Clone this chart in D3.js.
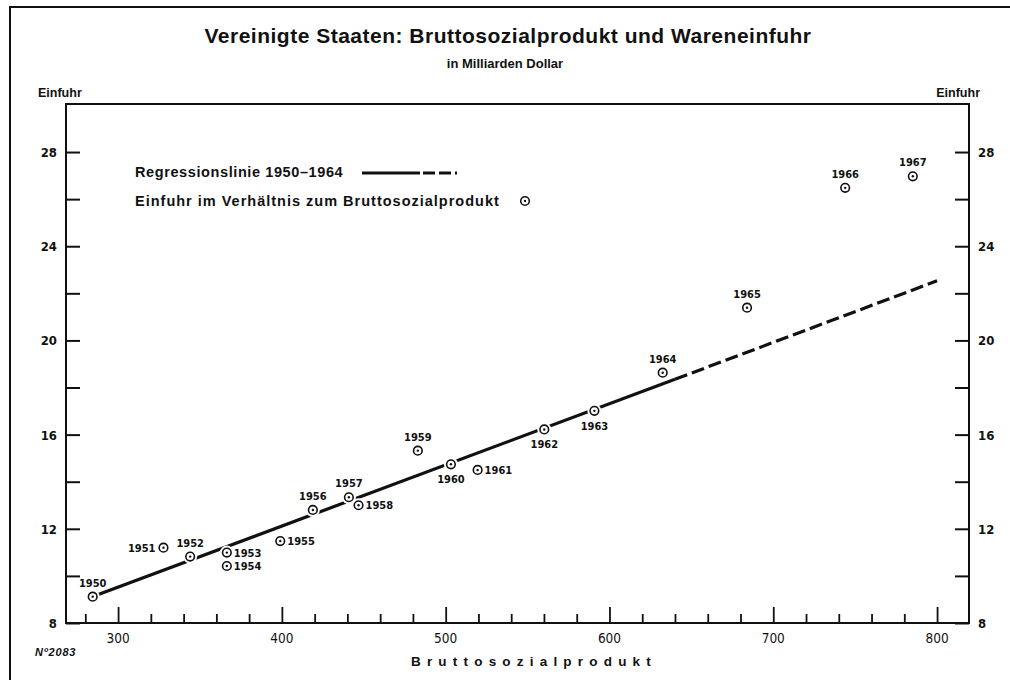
<!DOCTYPE html>
<meta charset="utf-8">
<script src="https://d3js.org/d3.v7.min.js"></script>
<style>
  body { margin: 0; background: #fff; }
  text { font-family: "Liberation Sans", Arial, sans-serif; fill: #111; }
  .narrow { font-family: "Liberation Sans Narrow", "DejaVu Sans Condensed", "Liberation Sans", sans-serif; }
</style>
<body>
<div id="chart"></div>
<script>

// data (GNP, imports, both in bn dollar)
var years   = [1950, 1951, 1952, 1953, 1954, 1955, 1956, 1957, 1958, 1959, 1960, 1961, 1962, 1963, 1964, 1965, 1966, 1967]
var gnp     = [284.5, 327.7, 344.0, 366.4, 366.4, 399.0, 418.9, 440.9, 446.8, 483.0, 503.2, 519.5, 560.2, 590.8, 632.5, 684.0, 743.9, 785.2]
var imports = [9.12, 11.2, 10.82, 10.99, 10.42, 11.48, 12.8, 13.34, 13.0, 15.32, 14.74, 14.5, 16.22, 17.01, 18.63, 21.39, 26.48, 26.97]
// where each year label sits next to its point
var labelPos = ["top", "left", "top", "right", "right", "right", "top", "top", "right", "top", "bottom", "right", "bottom", "bottom", "top", "top", "top", "top"]

// regression line 1950-1964, solid part then extrapolated (dashed)
var regSolid  = [[283, 9.08], [640, 18.35]]
var regDashed = [[640, 18.35], [800, 22.53]]

var xTicks = [300, 400, 500, 600, 700, 800]
var yTicks = [8, 12, 16, 20, 24, 28]

var width = 1010, height = 680
var pLeft = 66, pRight = 969, pTop = 104, pBottom = 623

var svg = d3.select("#chart").append("svg")
  .attr("width", width)
  .attr("height", height)

var x = d3.scaleLinear().domain([268.2, 819.5]).range([pLeft, pRight])
var y = d3.scaleLinear().domain([8, 30.04]).range([pBottom, pTop])

// outer frame (left + top only, like the scan)
svg.append("path")
  .attr("d", "M10,680 L10,7 L1010,7")
  .attr("fill", "none").attr("stroke", "#111").attr("stroke-width", 2)

// titles
svg.append("text").attr("x", 508).attr("y", 43)
  .attr("text-anchor", "middle").style("font-size", "21px").style("font-weight", "bold")
  .style("letter-spacing", "0.5px")
  .text("Vereinigte Staaten: Bruttosozialprodukt und Wareneinfuhr")
svg.append("text").attr("x", 505).attr("y", 68)
  .attr("text-anchor", "middle").style("font-size", "13px").style("font-weight", "bold")
  .text("in Milliarden Dollar")
svg.append("text").attr("x", 38).attr("y", 97)
  .style("font-size", "12.5px").style("font-weight", "bold").text("Einfuhr")
svg.append("text").attr("x", 980).attr("y", 97)
  .attr("text-anchor", "end").style("font-size", "12.5px").style("font-weight", "bold").text("Einfuhr")

// plot frame: left, right, bottom, top
svg.append("rect")
  .attr("x", pLeft).attr("y", pTop)
  .attr("width", pRight - pLeft).attr("height", pBottom - pTop)
  .attr("fill", "none").attr("stroke", "#111").attr("stroke-width", 2)

// y axes (ticks inward)
var yAll = d3.range(8, 30, 2)
var ga = svg.append("g").attr("transform", "translate(" + pLeft + ",0)")
  .call(d3.axisRight(y).tickValues(yAll).tickSize(14).tickFormat(""))
var gb = svg.append("g").attr("transform", "translate(" + pRight + ",0)")
  .call(d3.axisLeft(y).tickValues(yAll).tickSize(14).tickFormat(""))
;[ga, gb].forEach(function(g) {
  g.select(".domain").remove()
  g.selectAll("line").attr("stroke", "#111").attr("stroke-width", 2)
})

svg.selectAll(".ylabL").data(yTicks).enter().append("text")
  .attr("class", "narrow")
  .attr("x", 57).attr("y", function(d) { return y(d) + 5 })
  .attr("text-anchor", "end").style("font-size", "13px").style("font-weight", "bold")
  .text(function(d) { return d })
svg.selectAll(".ylabR").data(yTicks).enter().append("text")
  .attr("class", "narrow")
  .attr("x", 978).attr("y", function(d) { return y(d) + 5 })
  .style("font-size", "13px").style("font-weight", "bold")
  .text(function(d) { return d })

// x axis ticks (upward, major every 100)
var xAll = d3.range(280, 820, 20)
var gx = svg.append("g").attr("transform", "translate(0," + pBottom + ")")
  .call(d3.axisTop(x).tickValues(xAll).tickFormat(""))
gx.select(".domain").remove()
gx.selectAll("line")
  .attr("y2", function(d) { return d % 100 == 0 ? -16 : -9 })
  .attr("stroke", "#111").attr("stroke-width", 1.8)

svg.selectAll(".xlab").data(xTicks).enter().append("text")
  .attr("class", "narrow")
  .attr("x", function(d) { return x(d) }).attr("y", 643)
  .attr("text-anchor", "middle").style("font-size", "13.5px")
  .text(function(d) { return d })

svg.append("text").attr("x", 534).attr("y", 666)
  .attr("text-anchor", "middle").style("font-size", "13.5px").style("font-weight", "bold")
  .style("letter-spacing", "6.2px")
  .text("Bruttosozialprodukt")

svg.append("text").attr("x", 35).attr("y", 656)
  .style("font-size", "11px").style("font-style", "italic").style("font-weight", "bold")
  .style("letter-spacing", "0.8px")
  .text("Nº2083")

// regression line
var line = d3.line().x(function(d) { return x(d[0]) }).y(function(d) { return y(d[1]) })
svg.append("path").attr("d", line(regSolid))
  .attr("fill", "none").attr("stroke", "#111").attr("stroke-width", 3.2)
svg.append("path").attr("d", line(regDashed))
  .attr("fill", "none").attr("stroke", "#111").attr("stroke-width", 3.2)
  .attr("stroke-dasharray", "13,5")

// points
var pts = years.map(function(yr, i) {
  return { year: yr, gnp: gnp[i], imp: imports[i], pos: labelPos[i] }
})

function marker(sel) {
  sel.append("circle").attr("r", 7).attr("fill", "#fff")
  sel.append("circle").attr("r", 4.3).attr("fill", "#fff")
    .attr("stroke", "#111").attr("stroke-width", 1.6)
  sel.append("circle").attr("r", 1.2).attr("fill", "#111")
}

var pt = svg.selectAll(".pt").data(pts).enter().append("g")
  .attr("class", "pt")
  .attr("transform", function(d) { return "translate(" + x(d.gnp) + "," + y(d.imp) + ")" })
pt.call(marker)

pt.append("text")
  .attr("class", "narrow")
  .style("font-size", "11px").style("font-weight", "bold")
  .attr("text-anchor", function(d) {
    return d.pos == "left" ? "end" : d.pos == "right" ? "start" : "middle"
  })
  .attr("x", function(d) { return d.pos == "left" ? -8 : d.pos == "right" ? 7 : 0 })
  .attr("y", function(d) {
    return d.pos == "top" ? -10 : d.pos == "bottom" ? 19 : 4
  })
  .text(function(d) { return d.year })

// legend
svg.append("text").attr("x", 135).attr("y", 177)
  .style("font-size", "14.5px").style("font-weight", "bold")
  .style("letter-spacing", "0.6px")
  .text("Regressionslinie 1950\u20131964")
svg.append("line").attr("x1", 362).attr("x2", 420).attr("y1", 173).attr("y2", 173)
  .attr("stroke", "#111").attr("stroke-width", 3.2)
svg.append("line").attr("x1", 423).attr("x2", 457).attr("y1", 173).attr("y2", 173)
  .attr("stroke", "#111").attr("stroke-width", 3.2).attr("stroke-dasharray", "12,4")
svg.append("text").attr("x", 135).attr("y", 206)
  .style("font-size", "14.5px").style("font-weight", "bold")
  .style("letter-spacing", "1px")
  .text("Einfuhr im Verh\u00e4ltnis zum Bruttosozialprodukt")
svg.append("g").attr("transform", "translate(525,201)").call(marker)

</script>
</body>
